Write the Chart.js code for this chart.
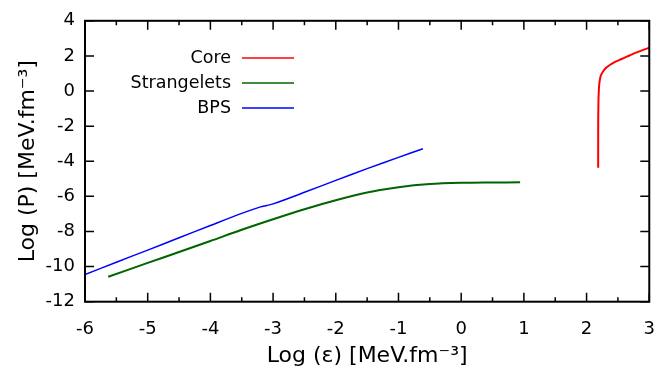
<!DOCTYPE html>
<html><head><meta charset="utf-8">
<script src="https://cdn.jsdelivr.net/npm/chart.js@4/dist/chart.umd.min.js"></script>
<style>html,body{margin:0;padding:0;background:#fff}</style>
</head><body>
<canvas id="c" width="672" height="375"></canvas>
<script>
// ---- data ----
const xTicks = [-6, -5, -4, -3, -2, -1, 0, 1, 2, 3];
const yTicks = [-12, -10, -8, -6, -4, -2, 0, 2, 4];

const coreX = [2.185, 2.185, 2.186, 2.19, 2.195, 2.20, 2.21, 2.227, 2.26, 2.307, 2.37, 2.44, 2.55, 2.65, 2.80, 2.97, 3.0];
const coreY = [-4.37, -3.0, -1.5, -0.5, 0.0, 0.31, 0.6, 0.875, 1.1, 1.31, 1.48, 1.63, 1.81, 1.97, 2.2, 2.43, 2.46];

const strangeX = [-5.63, -5.0, -4.5, -4.0, -3.5, -3.0, -2.5, -2.0, -1.5, -1.0, -0.5, 0.0, 0.5, 0.94];
const strangeY = [-10.58, -9.79, -9.17, -8.54, -7.90, -7.30, -6.73, -6.22, -5.78, -5.48, -5.30, -5.23, -5.21, -5.20];

const bpsX = [-6.0, -5.5, -5.0, -4.5, -4.0, -3.5, -3.2, -3.1, -3.0, -2.5, -2.0, -1.5, -1.0, -0.61];
const bpsY = [-10.45, -9.75, -9.06, -8.36, -7.66, -6.97, -6.60, -6.52, -6.43, -5.77, -5.09, -4.42, -3.78, -3.29];

const seriesNames = ['Core', 'Strangelets', 'BPS'];
const seriesColors = ['#ff0000', '#006400', '#0000ff'];

const FAMILY = '"DejaVu Sans", Verdana, sans-serif';
const pts = (xs, ys) => xs.map((x, i) => ({x: x, y: ys[i]}));

const framePlugin = {
  id: 'frame',
  afterDraw(chart) {
    const ctx = chart.ctx, a = chart.chartArea;
    const xs = chart.scales.x, ys = chart.scales.y;
    ctx.save();
    ctx.strokeStyle = '#000';
    ctx.lineWidth = 1.5;
    ctx.beginPath();
    xTicks.forEach((v, i) => {
      const px = xs.getPixelForValue(v);
      ctx.moveTo(px, a.bottom); ctx.lineTo(px, a.bottom - 9);
      ctx.moveTo(px, a.top); ctx.lineTo(px, a.top + 9);
      if (i < xTicks.length - 1) {
        const pm = xs.getPixelForValue((v + xTicks[i + 1]) / 2);
        ctx.moveTo(pm, a.bottom); ctx.lineTo(pm, a.bottom - 4.5);
        ctx.moveTo(pm, a.top); ctx.lineTo(pm, a.top + 4.5);
      }
    });
    yTicks.forEach(v => {
      const py = ys.getPixelForValue(v);
      ctx.moveTo(a.left, py); ctx.lineTo(a.left + 9, py);
      ctx.moveTo(a.right, py); ctx.lineTo(a.right - 9, py);
    });
    ctx.stroke();
    ctx.lineWidth = 2;
    ctx.strokeRect(a.left, a.top, a.right - a.left, a.bottom - a.top);
    ctx.font = '17.5px ' + FAMILY;
    ctx.textAlign = 'right';
    ctx.textBaseline = 'middle';
    ctx.fillStyle = '#000';
    chart.data.datasets.forEach((ds, i) => {
      const yy = 58 + i * 25;
      ctx.fillText(ds.label, 231, yy);
      ctx.strokeStyle = ds.borderColor;
      ctx.lineWidth = 1.5;
      ctx.beginPath(); ctx.moveTo(242, yy); ctx.lineTo(294, yy); ctx.stroke();
    });
    ctx.restore();
  }
};

new Chart(document.getElementById('c'), {
  type: 'scatter',
  data: {
    datasets: [
      {label: seriesNames[0], data: pts(coreX, coreY), borderColor: seriesColors[0], borderWidth: 2, showLine: true, pointRadius: 0, tension: 0.3},
      {label: seriesNames[1], data: pts(strangeX, strangeY), borderColor: seriesColors[1], borderWidth: 2, showLine: true, pointRadius: 0, tension: 0.3},
      {label: seriesNames[2], data: pts(bpsX, bpsY), borderColor: seriesColors[2], borderWidth: 1.5, showLine: true, pointRadius: 0, tension: 0.3}
    ]
  },
  options: {
    responsive: false,
    animation: false,
    layout: {padding: {top: 20, right: 22, left: 0, bottom: 0}},
    plugins: {legend: {display: false}, tooltip: {enabled: false}},
    scales: {
      x: {
        type: 'linear', min: -6, max: 3,
        afterBuildTicks: s => { s.ticks = xTicks.map(v => ({value: v})); },
        afterFit: s => { s.height = 73.3; },
        ticks: {font: {family: FAMILY, size: 18}, color: '#000', padding: 17, maxRotation: 0, autoSkip: false},
        grid: {display: false, drawTicks: false},
        border: {display: false},
        title: {display: true, text: 'Log (ε) [MeV.fm⁻³]', font: {family: FAMILY, size: 22}, color: '#000', padding: {top: 6, bottom: 6}}
      },
      y: {
        type: 'linear', min: -12, max: 4,
        afterBuildTicks: s => { s.ticks = yTicks.map(v => ({value: v})); },
        afterFit: s => { s.width = 85; },
        ticks: {font: {family: FAMILY, size: 18}, color: '#000', padding: 10, autoSkip: false},
        grid: {display: false, drawTicks: false},
        border: {display: false},
        title: {display: true, text: 'Log (P) [MeV.fm⁻³]', font: {family: FAMILY, size: 22}, color: '#000', padding: {top: 15, bottom: 15}}
      }
    }
  },
  plugins: [framePlugin]
});
</script>
</body></html>
